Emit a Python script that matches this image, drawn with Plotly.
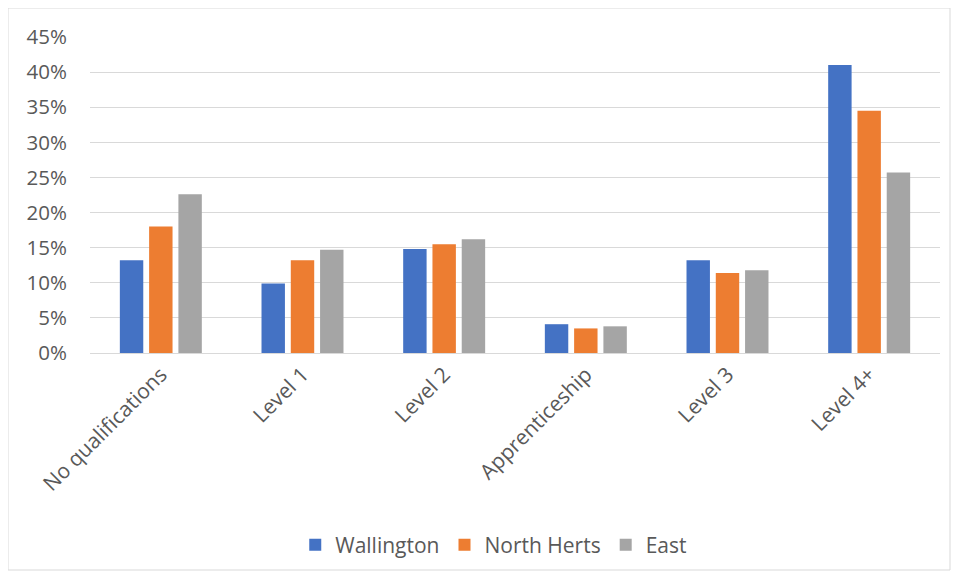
import plotly.graph_objects as go

categories = ["No qualifications", "Level 1", "Level 2", "Apprenticeship", "Level 3", "Level 4+"]
wallington = [0.132, 0.099, 0.148, 0.041, 0.132, 0.410]
north_herts = [0.180, 0.132, 0.155, 0.035, 0.114, 0.345]
east = [0.226, 0.147, 0.162, 0.038, 0.118, 0.257]
y_ticks = [0, 0.05, 0.10, 0.15, 0.20, 0.25, 0.30, 0.35, 0.40, 0.45]
y_tick_labels = ["0%", "5%", "10%", "15%", "20%", "25%", "30%", "35%", "40%", "45%"]

FONT = "Open Sans, Liberation Sans, sans-serif"
TXT = "#595959"

fig = go.Figure()
for name, vals, col in [("Wallington", wallington, "#4472C4"),
                        ("North Herts", north_herts, "#ED7D31"),
                        ("East", east, "#A5A5A5")]:
    fig.add_trace(go.Bar(x=categories, y=vals, name=name, marker_color=col,
                         marker_line_width=0))

fig.update_layout(
    width=960, height=578,
    margin=dict(l=82, r=28, t=29, b=233, autoexpand=False),
    paper_bgcolor="white", plot_bgcolor="white",
    bargap=0.38, bargroupgap=0.2,
    font=dict(family=FONT, color=TXT, size=16),
    legend=dict(orientation="h", x=0.475, xanchor="center", y=-0.608, yanchor="middle",
                font=dict(size=21, color=TXT), itemwidth=30, traceorder="normal"),
    xaxis=dict(tickangle=-45, showgrid=False, showline=True, linecolor="#d9d9d9",
               linewidth=1, ticks="", tickfont=dict(size=21, color=TXT), automargin=False),
    yaxis=dict(range=[0, 0.45], tickvals=y_ticks, ticktext=y_tick_labels,
               showgrid=True, gridcolor="#d9d9d9", gridwidth=1, zeroline=False,
               showline=False, ticks="", ticklabelstandoff=22, automargin=False,
               tickfont=dict(size=20.5, color=TXT)),
    shapes=[dict(type="rect", xref="paper", yref="paper",
                 x0=-82/850, x1=(942-82)/850, y0=-(562-345)/316, y1=1 + 29/316,
                 line=dict(color="#d9d9d9", width=1), layer="below")],
)

fig.write_html("out.html")
